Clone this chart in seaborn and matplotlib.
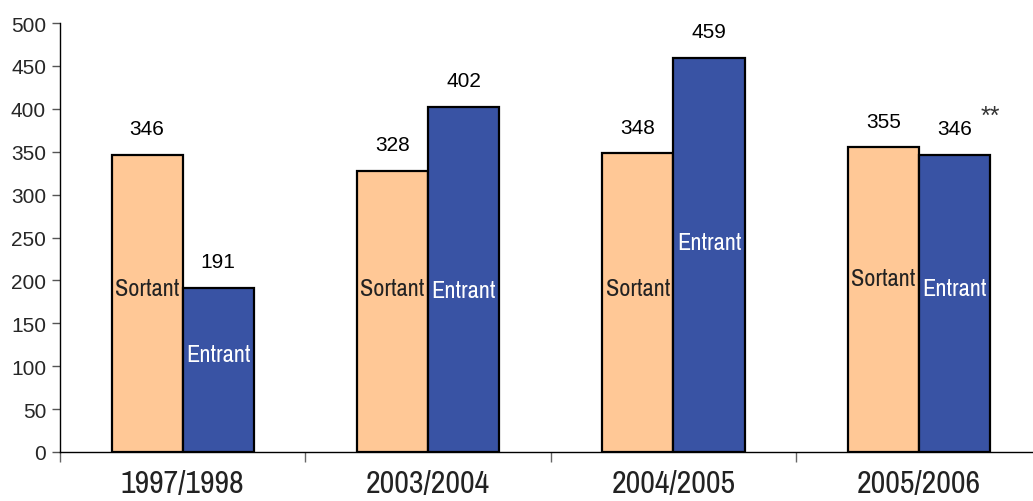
import matplotlib
matplotlib.use("Agg")
import matplotlib.pyplot as plt
import seaborn as sns
import pandas as pd
from matplotlib.ticker import FixedLocator, NullFormatter
from matplotlib import font_manager as fm

years = ["1997/1998", "2003/2004", "2004/2005", "2005/2006"]
sortant = [346, 328, 348, 355]
entrant = [191, 402, 459, 346]
series = ["Sortant", "Entrant"]
inner_label_y_sortant = [191, 191, 191, 202]
inner_label_y_entrant = [114, 188, 244, 191]
colors = {"Sortant": "#FFC896", "Entrant": "#3953A4"}

df = pd.DataFrame({
    "year": years * 2,
    "series": ["Sortant"] * len(years) + ["Entrant"] * len(years),
    "value": sortant + entrant,
})

sns.set_style("white")
plt.rcParams['font.family'] = ['Liberation Sans', 'DejaVu Sans']
available = set(f.name for f in fm.fontManager.ttflist)
narrow = [f for f in ['Pragati Narrow', 'Archivo Narrow', 'Roboto Condensed',
                      'Liberation Sans'] if f in available] + ['DejaVu Sans']
narrow = narrow[:1] + ['DejaVu Sans']

fig = plt.figure(figsize=(10.33, 5.02), dpi=100)
ax = fig.add_axes([60 / 1033, 49 / 502, 1 - 60 / 1033, (453 - 24) / 502])

sns.barplot(data=df, x="year", y="value", hue="series", hue_order=series,
            palette=colors, width=0.58, dodge=True, edgecolor="black",
            linewidth=1.6, saturation=1, legend=False, ax=ax)

ax.set_ylim(0, 500)
ax.set_xlim(-0.5, 3.465)
ax.set_yticks(range(0, 501, 50))
ax.set_xlabel("")
ax.set_ylabel("")

for s in ["top", "right"]:
    ax.spines[s].set_visible(False)
for s in ["left", "bottom"]:
    ax.spines[s].set_color("black")
    ax.spines[s].set_linewidth(1.0)

ax.tick_params(axis="y", direction="out", length=6, width=1, color="#555555",
               labelsize=15, pad=4, left=True)
ax.tick_params(axis="x", which="major", length=0, pad=12)
for lbl in ax.get_xticklabels():
    lbl.set_fontfamily(narrow)
    lbl.set_fontsize(25)
    lbl.set_fontweight("normal")
    lbl.set_color("#222222")
ax.xaxis.set_minor_locator(FixedLocator([-0.5, 0.5, 1.5, 2.5]))
ax.xaxis.set_minor_formatter(NullFormatter())
ax.tick_params(axis="x", which="minor", direction="out", length=7, width=1,
               color="#666666", bottom=True)

inner_pos = {"Sortant": inner_label_y_sortant, "Entrant": inner_label_y_entrant}
txt_color = {"Sortant": "#222222", "Entrant": "white"}
for cont, name in zip(ax.containers, series):
    for i, bar in enumerate(cont):
        cx = bar.get_x() + bar.get_width() / 2
        h = bar.get_height()
        ax.annotate(f"{int(h)}", (cx, h), xytext=(0, 19), textcoords="offset points",
                    ha="center", va="center", fontsize=15, color="black")
        ax.text(cx, inner_pos[name][i], name, ha="center", va="center",
                fontsize=19, color=txt_color[name], family=narrow)

last = ax.containers[1][3]
ax.annotate("**", (last.get_x() + last.get_width(), last.get_height()),
            xytext=(0, 28), textcoords="offset points", ha="center", va="center",
            fontsize=18, color="#333333")

fig.savefig("out.png", dpi=100)
